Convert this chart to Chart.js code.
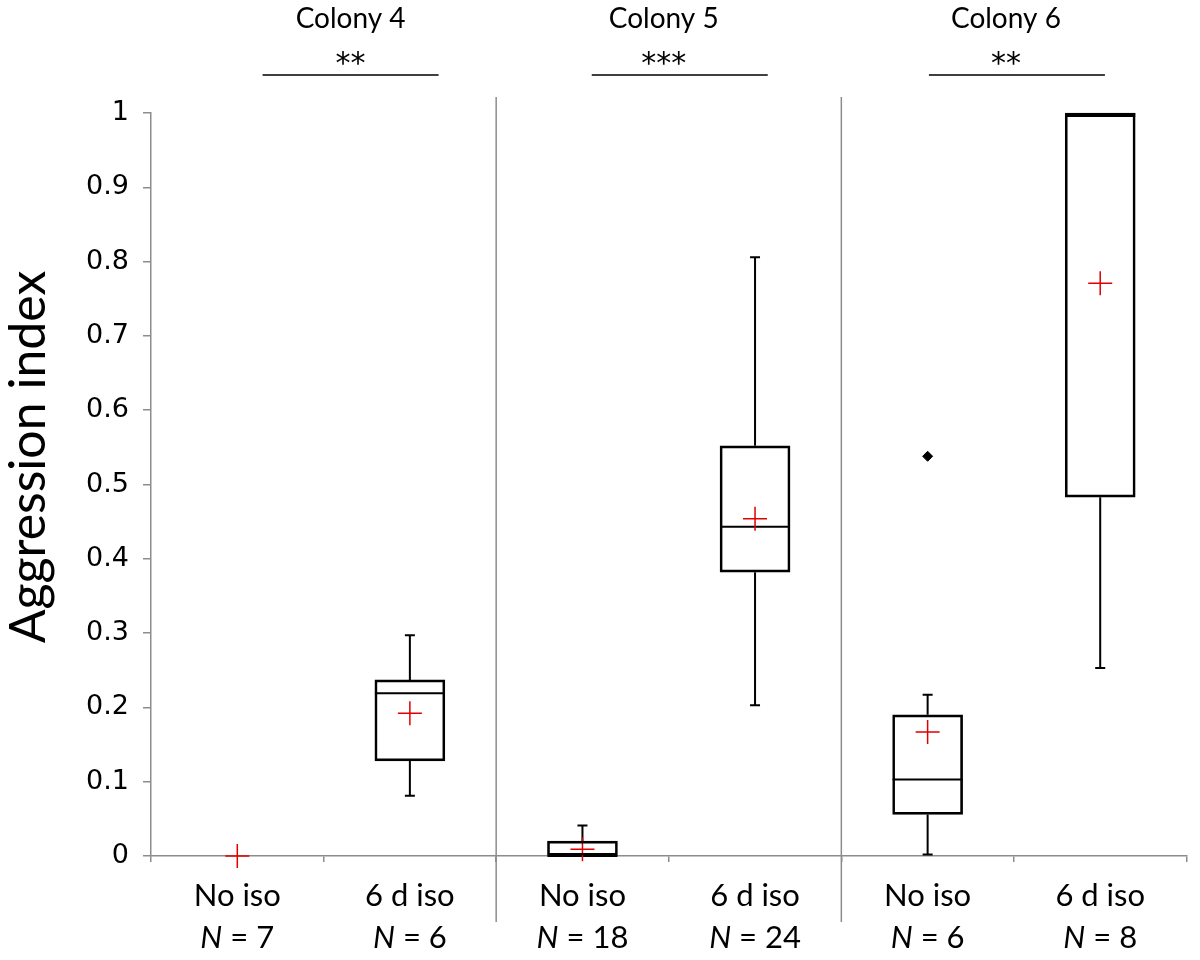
<!DOCTYPE html>
<html>
<head>
<meta charset="utf-8">
<script src="https://cdn.jsdelivr.net/npm/chart.js@4.4.1/dist/chart.umd.min.js"></script>
<style>
  html, body { margin: 0; padding: 0; background: #fff; }
  #wrap { width: 1200px; height: 960px; }
</style>
</head>
<body>
<div id="wrap"><canvas id="myChart" width="1200" height="960"></canvas></div>
<script>
// data
const categories = ['No iso', '6 d iso', 'No iso', '6 d iso', 'No iso', '6 d iso'];
const sampleSizes = [7, 6, 18, 24, 6, 8];
const colonies = ['Colony 4', 'Colony 5', 'Colony 6'];
const significance = ['**', '***', '**'];
const whiskerMin = [null, 0.081, 0, 0.203, 0.002, 0.253];
const q1 = [null, 0.128, 0, 0.382, 0.056, 0.483];
const median = [null, 0.219, 0, 0.443, 0.103, 1];
const q3 = [null, 0.237, 0.020, 0.552, 0.190, 1];
const whiskerMax = [null, 0.297, 0.041, 0.806, 0.217, 1];
const means = [0, 0.192, 0.009, 0.454, 0.167, 0.771];
const outliers = [null, null, null, null, 0.538, null];
const yTicks = [0, 0.1, 0.2, 0.3, 0.4, 0.5, 0.6, 0.7, 0.8, 0.9, 1];

const FONT = 'Lato, "Open Sans", sans-serif';
const GREY = '#8c8c8c';
const BOX_W = 70;

// whiskers + medians, drawn under the boxes and the mean crosses
const boxParts = {
    id: 'boxParts',
    beforeDatasetsDraw(chart) {
        const ctx = chart.ctx;
        const x = chart.scales.x, y = chart.scales.y;
        ctx.save();
        ctx.strokeStyle = '#000';
        categories.forEach((c, i) => {
            if (q1[i] === null) return;
            const cx = x.getPixelForValue(i);
            ctx.lineWidth = 2;
            ctx.beginPath();
            if (whiskerMax[i] > q3[i]) {
                ctx.moveTo(cx, y.getPixelForValue(q3[i]));
                ctx.lineTo(cx, y.getPixelForValue(whiskerMax[i]));
                ctx.moveTo(cx - 5, y.getPixelForValue(whiskerMax[i]));
                ctx.lineTo(cx + 5, y.getPixelForValue(whiskerMax[i]));
            }
            if (whiskerMin[i] < q1[i]) {
                ctx.moveTo(cx, y.getPixelForValue(q1[i]));
                ctx.lineTo(cx, y.getPixelForValue(whiskerMin[i]));
                ctx.moveTo(cx - 5, y.getPixelForValue(whiskerMin[i]));
                ctx.lineTo(cx + 5, y.getPixelForValue(whiskerMin[i]));
            }
            ctx.stroke();
            // median; when it sits on the box top it shows as a heavier edge
            const onTop = median[i] === q3[i];
            ctx.lineWidth = onTop ? 4 : 2;
            const my = y.getPixelForValue(median[i]) + (onTop ? 2 : 0);
            ctx.beginPath();
            ctx.moveTo(cx - BOX_W / 2, my);
            ctx.lineTo(cx + BOX_W / 2, my);
            ctx.stroke();
        });
        ctx.restore();
    }
};

// separators, colony headers, two-line x labels, y title
const decorations = {
    id: 'decorations',
    afterDraw(chart) {
        const ctx = chart.ctx;
        const x = chart.scales.x;
        const textShift = [27, -5, -8];
        const lineShift = [27, 11, 3];
        ctx.save();

        ctx.strokeStyle = GREY;
        ctx.lineWidth = 1.5;
        [1, 3].forEach(i => {
            const sx = (x.getPixelForValue(i) + x.getPixelForValue(i + 1)) / 2;
            ctx.beginPath();
            ctx.moveTo(sx, 97);
            ctx.lineTo(sx, 922);
            ctx.stroke();
        });

        ctx.fillStyle = '#000';
        ctx.textAlign = 'center';
        colonies.forEach((name, k) => {
            const mid = (x.getPixelForValue(2 * k) + x.getPixelForValue(2 * k + 1)) / 2;
            const tc = mid + textShift[k];
            ctx.textBaseline = 'middle';
            ctx.font = '28px ' + FONT;
            ctx.fillText(name, tc, 19);
            ctx.textBaseline = 'alphabetic';
            ctx.font = '30px "DejaVu Sans", sans-serif';
            ctx.fillText(significance[k], tc, 73);
            const lc = mid + lineShift[k];
            ctx.strokeStyle = '#000';
            ctx.lineWidth = 1.5;
            ctx.beginPath();
            ctx.moveTo(lc - 88, 75);
            ctx.lineTo(lc + 88, 75);
            ctx.stroke();
        });

        ctx.textBaseline = 'middle';
        categories.forEach((c, i) => {
            const cx = x.getPixelForValue(i);
            ctx.textAlign = 'center';
            ctx.font = '31px ' + FONT;
            ctx.fillText(c, cx, 896);
            const italic = 'italic 31px ' + FONT;
            const normal = '31px ' + FONT;
            const rest = ' = ' + sampleSizes[i];
            ctx.font = italic;
            const wN = ctx.measureText('N').width;
            ctx.font = normal;
            const wR = ctx.measureText(rest).width;
            const left = cx - (wN + wR) / 2;
            ctx.textAlign = 'left';
            ctx.font = italic;
            ctx.fillText('N', left, 938);
            ctx.font = normal;
            ctx.fillText(rest, left + wN, 938);
        });

        ctx.translate(29, 457);
        ctx.rotate(-Math.PI / 2);
        ctx.textAlign = 'center';
        ctx.font = '50px ' + FONT;
        ctx.fillText('Aggression index', 0, 0);
        ctx.restore();
    }
};

const ctx = document.getElementById('myChart').getContext('2d');
const myChart = new Chart(ctx, {
    type: 'bar',
    data: {
        labels: categories,
        datasets: [
            {
                label: 'Box',
                data: q1.map((v, i) => v === null ? null : [v, q3[i]]),
                backgroundColor: 'rgba(0,0,0,0)',
                borderColor: '#000',
                borderWidth: 2,
                borderSkipped: false,
                barThickness: BOX_W,
                grouped: false,
                clip: false
            },
            {
                type: 'line',
                label: 'Mean',
                data: means,
                showLine: false,
                pointStyle: 'cross',
                pointRadius: 12,
                pointBorderColor: '#e00000',
                pointBorderWidth: 1.5,
                clip: false
            },
            {
                type: 'line',
                label: 'Outlier',
                data: outliers,
                showLine: false,
                pointStyle: 'rectRot',
                pointRadius: 5,
                pointBackgroundColor: '#000',
                pointBorderColor: '#000',
                clip: false
            }
        ]
    },
    options: {
        responsive: false,
        animation: false,
        events: [],
        layout: { padding: { top: 113, right: 13, left: 0, bottom: 0 } },
        plugins: { legend: { display: false }, tooltip: { enabled: false } },
        scales: {
            x: {
                type: 'category',
                offset: true,
                grid: { offset: true, drawOnChartArea: false, drawTicks: true, tickLength: 6, color: GREY, lineWidth: 1.5 },
                border: { display: true, color: GREY, width: 1.5 },
                ticks: { display: false },
                afterFit(scale) { scale.height = 104; }
            },
            y: {
                min: 0,
                max: 1,
                afterBuildTicks(scale) { scale.ticks = yTicks.map(v => ({ value: v })); },
                grid: { drawOnChartArea: false, drawTicks: true, tickLength: 8, color: GREY, lineWidth: 1.5 },
                border: { display: true, color: GREY, width: 1.5 },
                ticks: {
                    padding: 14,
                    color: '#000',
                    font: { family: '"DejaVu Sans", sans-serif', size: 27 },
                    callback: v => String(Math.round(v * 10) / 10)
                },
                afterFit(scale) { scale.width = 151; }
            }
        }
    },
    plugins: [boxParts, decorations]
});
</script>
</body>
</html>
